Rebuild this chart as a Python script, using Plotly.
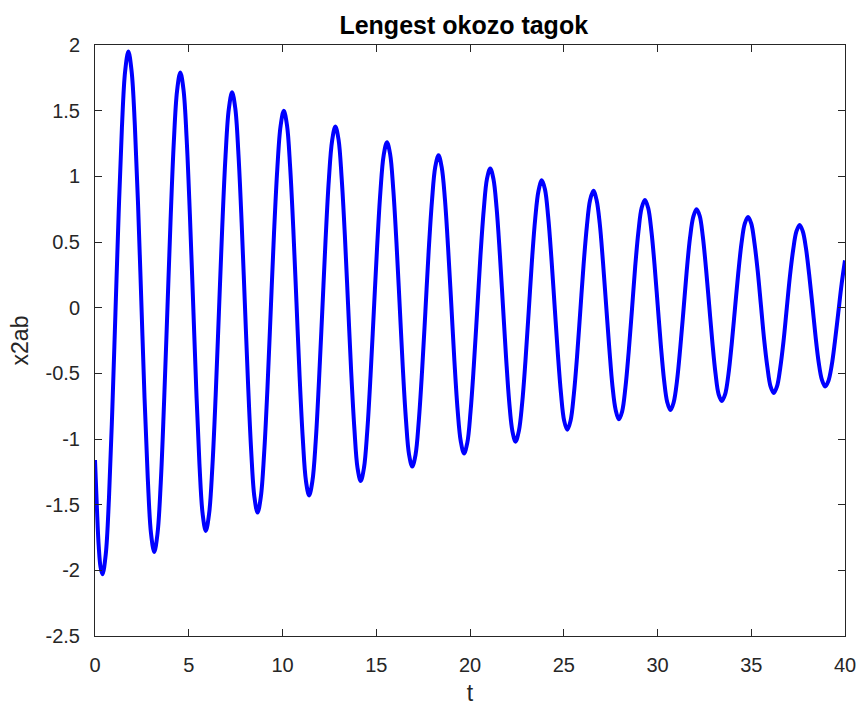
import plotly.graph_objects as go

t_vals = [
    0.00, 0.10, 0.20, 0.30,
    0.40, 0.5725, 0.745, 0.9175, 1.09, 1.2625, 1.435, 1.6075,
    1.78, 1.9525, 2.125, 2.2975, 2.47, 2.6425, 2.815, 2.9875,
    3.16, 3.334, 3.508, 3.681, 3.855, 4.029, 4.203, 4.376,
    4.55, 4.72, 4.89, 5.06, 5.23, 5.40, 5.57, 5.74,
    5.91, 6.085, 6.26, 6.435, 6.61, 6.785, 6.96, 7.135,
    7.31, 7.48, 7.65, 7.82, 7.99, 8.16, 8.33, 8.50,
    8.67, 8.845, 9.02, 9.195, 9.37, 9.545, 9.72, 9.895,
    10.07, 10.239, 10.408, 10.576, 10.745, 10.914, 11.083, 11.251,
    11.42, 11.595, 11.77, 11.945, 12.12, 12.295, 12.47, 12.645,
    12.82, 12.989, 13.158, 13.326, 13.495, 13.664, 13.833, 14.001,
    14.17, 14.345, 14.52, 14.695, 14.87, 15.045, 15.22, 15.395,
    15.57, 15.739, 15.908, 16.076, 16.245, 16.414, 16.583, 16.751,
    16.92, 17.095, 17.27, 17.445, 17.62, 17.795, 17.97, 18.145,
    18.32, 18.49, 18.66, 18.83, 19.00, 19.17, 19.34, 19.51,
    19.68, 19.855, 20.03, 20.205, 20.38, 20.555, 20.73, 20.905,
    21.08, 21.249, 21.418, 21.586, 21.755, 21.924, 22.093, 22.261,
    22.43, 22.605, 22.78, 22.955, 23.13, 23.305, 23.48, 23.655,
    23.83, 24.00, 24.17, 24.34, 24.51, 24.68, 24.85, 25.02,
    25.19, 25.364, 25.538, 25.711, 25.885, 26.059, 26.233, 26.406,
    26.58, 26.75, 26.92, 27.09, 27.26, 27.43, 27.60, 27.77,
    27.94, 28.114, 28.288, 28.461, 28.635, 28.809, 28.983, 29.156,
    29.33, 29.50, 29.67, 29.84, 30.01, 30.18, 30.35, 30.52,
    30.69, 30.864, 31.038, 31.211, 31.385, 31.559, 31.733, 31.906,
    32.08, 32.249, 32.418, 32.586, 32.755, 32.924, 33.093, 33.261,
    33.43, 33.605, 33.78, 33.955, 34.13, 34.305, 34.48, 34.655,
    34.83, 35.001, 35.173, 35.344, 35.515, 35.686, 35.858, 36.029,
    36.20, 36.373, 36.545, 36.718, 36.89, 37.063, 37.235, 37.408,
    37.58, 37.75, 37.92, 38.09, 38.26, 38.43, 38.60, 38.77,
    38.94, 39.11, 39.29, 39.46, 39.64, 39.82, 40.00,
]
x2ab_vals = [
    -1.16, -1.52, -1.82, -1.98,
    -2.03, -1.88, -1.45, -0.80, -0.04, 0.72, 1.37, 1.80,
    1.95, 1.80, 1.39, 0.78, 0.05, -0.69, -1.30, -1.72,
    -1.86, -1.72, -1.33, -0.73, -0.04, 0.66, 1.26, 1.65,
    1.79, 1.66, 1.28, 0.71, 0.05, -0.62, -1.19, -1.57,
    -1.70, -1.57, -1.21, -0.67, -0.03, 0.61, 1.15, 1.51,
    1.64, 1.52, 1.17, 0.65, 0.04, -0.57, -1.09, -1.44,
    -1.56, -1.44, -1.11, -0.62, -0.03, 0.56, 1.05, 1.38,
    1.50, 1.39, 1.07, 0.60, 0.04, -0.53, -1.00, -1.32,
    -1.43, -1.32, -1.02, -0.56, -0.03, 0.51, 0.97, 1.27,
    1.38, 1.28, 0.98, 0.55, 0.03, -0.49, -0.92, -1.22,
    -1.32, -1.22, -0.94, -0.52, -0.03, 0.46, 0.88, 1.16,
    1.26, 1.17, 0.90, 0.50, 0.03, -0.45, -0.85, -1.12,
    -1.21, -1.12, -0.86, -0.48, -0.03, 0.43, 0.81, 1.07,
    1.16, 1.07, 0.83, 0.46, 0.03, -0.41, -0.78, -1.02,
    -1.11, -1.03, -0.79, -0.44, -0.03, 0.39, 0.74, 0.98,
    1.06, 0.98, 0.76, 0.42, 0.02, -0.38, -0.72, -0.94,
    -1.02, -0.94, -0.73, -0.41, -0.03, 0.36, 0.68, 0.89,
    0.97, 0.90, 0.69, 0.38, 0.02, -0.34, -0.65, -0.86,
    -0.93, -0.86, -0.66, -0.37, -0.02, 0.33, 0.62, 0.82,
    0.89, 0.82, 0.64, 0.35, 0.02, -0.31, -0.60, -0.78,
    -0.85, -0.79, -0.61, -0.34, -0.02, 0.31, 0.58, 0.76,
    0.82, 0.76, 0.59, 0.33, 0.02, -0.29, -0.55, -0.72,
    -0.78, -0.72, -0.56, -0.31, -0.02, 0.28, 0.53, 0.69,
    0.75, 0.70, 0.54, 0.30, 0.02, -0.26, -0.50, -0.66,
    -0.71, -0.66, -0.51, -0.28, -0.01, 0.26, 0.49, 0.64,
    0.69, 0.64, 0.49, 0.28, 0.02, -0.24, -0.45, -0.60,
    -0.65, -0.60, -0.46, -0.26, -0.01, 0.24, 0.44, 0.58,
    0.63, 0.58, 0.45, 0.25, 0.02, -0.22, -0.42, -0.55,
    -0.60, -0.56, -0.44, -0.26, -0.04, 0.18, 0.36,
]

x_ticks = [0, 5, 10, 15, 20, 25, 30, 35, 40]
y_ticks = [-2.5, -2, -1.5, -1, -0.5, 0, 0.5, 1, 1.5, 2]
y_tick_text = ["-2.5", "-2", "-1.5", "-1", "-0.5", "0", "0.5", "1", "1.5", "2"]

FONT = "Liberation Sans, Arial, Helvetica, sans-serif"
AX = "#262626"

fig = go.Figure()
fig.add_trace(go.Scatter(
    x=t_vals, y=x2ab_vals, mode="lines",
    line=dict(color="#0000FF", width=4, shape="spline", smoothing=1.0, simplify=False),
    hoverinfo="skip", showlegend=False,
))

axis_common = dict(
    showgrid=False, zeroline=False, showline=True, linecolor=AX, linewidth=1,
    mirror="ticks", ticks="inside", ticklen=7, tickwidth=1, tickcolor=AX,
    tickfont=dict(family=FONT, size=20, color=AX), automargin=False,
)

fig.update_layout(
    width=862, height=715,
    margin=dict(l=95, r=17, t=45, b=79, autoexpand=False),
    paper_bgcolor="white", plot_bgcolor="white",
    title=dict(text="<b>Lengest okozo tagok</b>", x=0.538, xanchor="center",
               y=0.965, yanchor="middle", automargin=False,
               font=dict(family=FONT, size=25, color="black")),
    xaxis=dict(range=[0, 40], tickvals=x_ticks, ticklabelstandoff=11,
               title=dict(text="t", font=dict(family=FONT, size=23, color=AX), standoff=9),
               **axis_common),
    yaxis=dict(range=[-2.5, 2], tickvals=y_ticks, ticktext=y_tick_text, ticklabelstandoff=10,
               title=dict(text="x2ab", font=dict(family=FONT, size=23, color=AX), standoff=10),
               **axis_common),
)

fig.write_html("out.html")
